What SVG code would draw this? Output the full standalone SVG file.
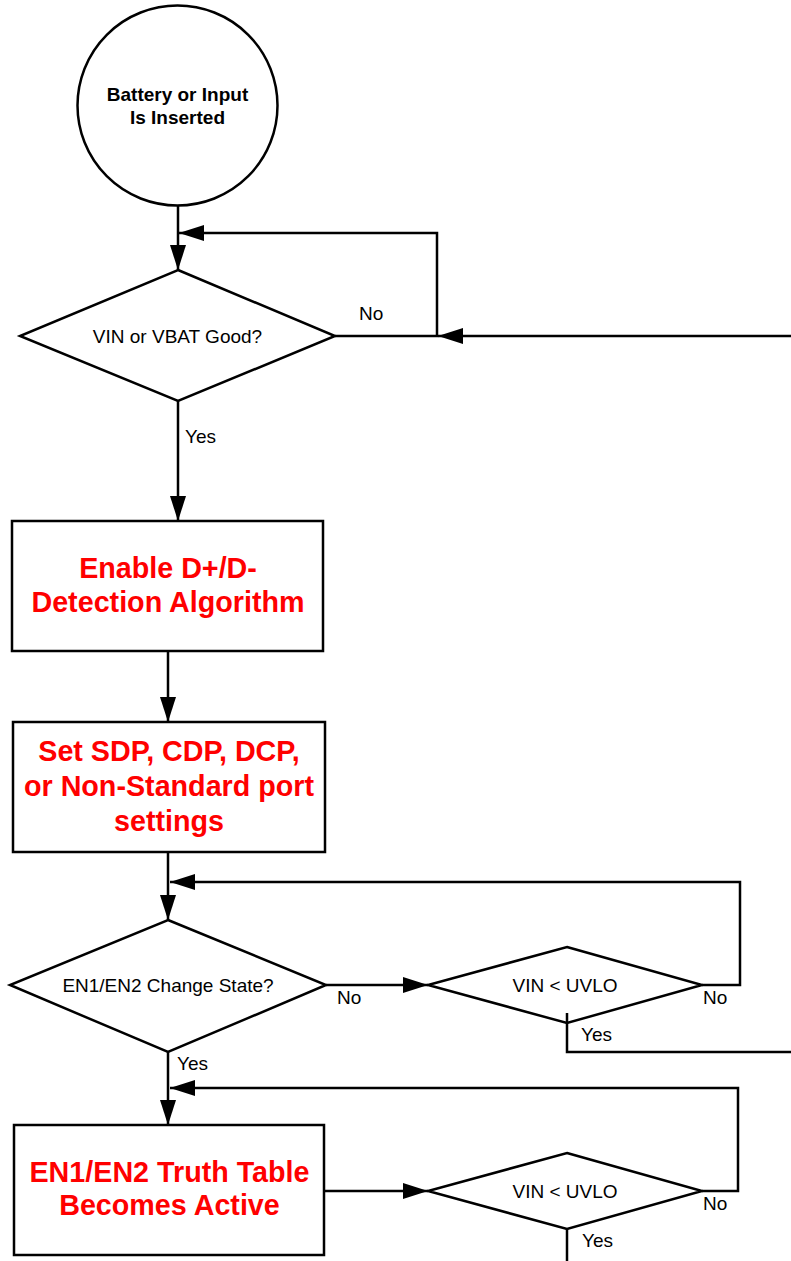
<svg xmlns="http://www.w3.org/2000/svg" width="791" height="1261" viewBox="0 0 791 1261">
<style>
.s{fill:#fff;stroke:#000;stroke-width:2.5}
.c{fill:none;stroke:#000;stroke-width:2.5}
.t{font-family:"Liberation Sans",Arial,sans-serif;font-size:19px;fill:#000}
.b{font-family:"Liberation Sans",Arial,sans-serif;font-size:19px;font-weight:bold;fill:#000}
.r{font-family:"Liberation Sans",Arial,sans-serif;font-size:28.7px;font-weight:bold;fill:#f00}
</style>
<defs>
<marker id="ah" viewBox="0 0 25 16" refX="25" refY="8" markerWidth="25" markerHeight="16" markerUnits="userSpaceOnUse" orient="auto">
<path d="M0,0 L25,8 L0,16 z" fill="#000"/>
</marker>
</defs>
<rect width="791" height="1261" fill="#fff"/>
<g id="start">
<circle class="s" cx="177.5" cy="105.5" r="100"/>
<text class="b" x="177.5" y="101" text-anchor="middle">Battery or Input</text>
<text class="b" x="177.5" y="124" text-anchor="middle">Is Inserted</text>
</g>
<g id="d1">
<polygon class="s" points="178,270 335,336 178,401 20,336"/>
<text class="t" x="177.5" y="343" text-anchor="middle">VIN or VBAT Good?</text>
</g>
<g id="box1">
<rect class="s" x="12" y="521" width="311" height="130"/>
<text class="r" x="168" y="578" text-anchor="middle">Enable D+/D-</text>
<text class="r" x="168" y="612" text-anchor="middle">Detection Algorithm</text>
</g>
<g id="box2">
<rect class="s" x="13" y="722" width="312" height="130"/>
<text class="r" x="169" y="761" text-anchor="middle">Set SDP, CDP, DCP,</text>
<text class="r" x="169" y="796" text-anchor="middle">or Non-Standard port</text>
<text class="r" x="169" y="831" text-anchor="middle">settings</text>
</g>
<g id="d2">
<polygon class="s" points="168,920 326,985 168,1052 10,985"/>
<text class="t" x="168" y="992" text-anchor="middle">EN1/EN2 Change State?</text>
</g>
<g id="d3">
<polygon class="s" points="567,947 702,985 567,1023 428,985"/>
<text class="t" x="565" y="992" text-anchor="middle">VIN &lt; UVLO</text>
</g>
<g id="box3">
<rect class="s" x="14" y="1125" width="310" height="130"/>
<text class="r" x="169.5" y="1182" text-anchor="middle">EN1/EN2 Truth Table</text>
<text class="r" x="169.5" y="1215" text-anchor="middle">Becomes Active</text>
</g>
<g id="d4">
<polygon class="s" points="567,1153 702,1191 567,1229 428,1191"/>
<text class="t" x="565" y="1198" text-anchor="middle">VIN &lt; UVLO</text>
</g>
<g id="connectors">
<path class="c" d="M178,206 V270" marker-end="url(#ah)"/>
<path class="c" d="M335,336 H437 V233 H179" marker-end="url(#ah)"/>
<path class="c" d="M791,336 H438" marker-end="url(#ah)"/>
<path class="c" d="M178,401 V521" marker-end="url(#ah)"/>
<path class="c" d="M168,651 V722" marker-end="url(#ah)"/>
<path class="c" d="M168,852 V920" marker-end="url(#ah)"/>
<path class="c" d="M326,985 H428" marker-end="url(#ah)"/>
<path class="c" d="M702,985 H740 V882 H170" marker-end="url(#ah)"/>
<path class="c" d="M567,1013 V1052 H791"/>
<path class="c" d="M168,1052 V1125" marker-end="url(#ah)"/>
<path class="c" d="M324,1191 H428" marker-end="url(#ah)"/>
<path class="c" d="M702,1191 H738 V1088 H170" marker-end="url(#ah)"/>
<path class="c" d="M567,1229 V1261"/>
<text class="t" x="359" y="320">No</text>
<text class="t" x="185" y="443">Yes</text>
<text class="t" x="337" y="1004">No</text>
<text class="t" x="703" y="1004">No</text>
<text class="t" x="581" y="1041">Yes</text>
<text class="t" x="177" y="1070">Yes</text>
<text class="t" x="703" y="1210">No</text>
<text class="t" x="582" y="1247">Yes</text>
</g>
</svg>
